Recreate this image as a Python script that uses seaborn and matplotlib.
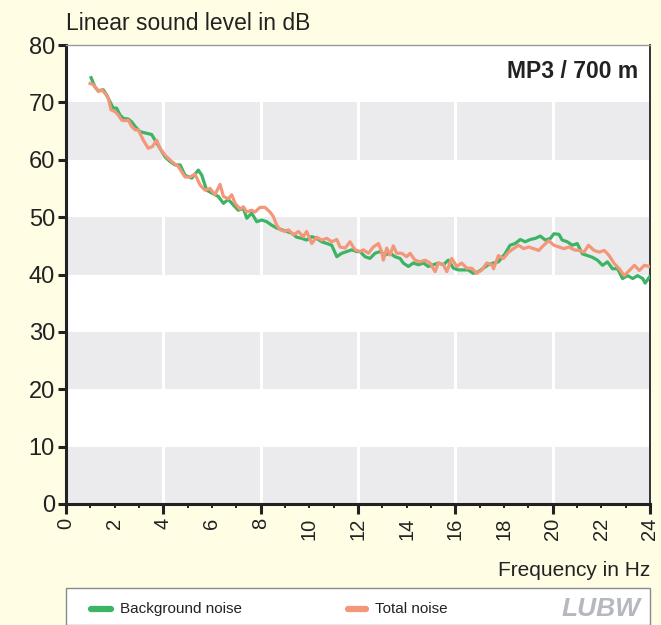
import matplotlib
matplotlib.use("Agg")
import matplotlib.pyplot as plt
from matplotlib import font_manager
from matplotlib.patches import Rectangle
from matplotlib.lines import Line2D
from matplotlib.ticker import FixedLocator, FuncFormatter
import numpy as np
import pandas as pd
import seaborn as sns

# ---------------- data ----------------
freq_bg = [1.03, 1.19, 1.33, 1.53, 1.67, 1.81, 1.94, 2.08, 2.22, 2.36, 2.56, 2.70, 2.84, 3.04,
           3.32, 3.52, 3.66, 3.86, 4.07, 4.27, 4.48, 4.69, 4.89, 5.17, 5.44, 5.58, 5.78, 5.99,
           6.26, 6.47, 6.67, 6.88, 7.08, 7.29, 7.43, 7.63, 7.84, 8.04, 8.25, 8.45, 8.66, 8.87,
           9.07, 9.28, 9.48, 9.69, 9.89, 10.10, 10.30, 10.51, 10.72, 10.92, 11.13, 11.33, 11.54,
           11.74, 11.95, 12.08, 12.29, 12.49, 12.70, 12.91, 13.11, 13.32, 13.52, 13.73, 13.86,
           14.07, 14.27, 14.48, 14.69, 14.89, 15.10, 15.30, 15.51, 15.71, 15.92, 16.12, 16.33,
           16.53, 16.74, 16.95, 17.15, 17.36, 17.56, 17.77, 18.04, 18.25, 18.46, 18.67, 18.87,
           19.08, 19.29, 19.49, 19.70, 19.91, 20.05, 20.26, 20.39, 20.60, 20.81, 21.01, 21.22,
           21.43, 21.63, 21.84, 22.05, 22.25, 22.46, 22.67, 22.87, 23.08, 23.29, 23.49, 23.70,
           23.80, 23.98]
level_bg = [74.3, 72.7, 72.0, 72.2, 71.3, 70.1, 69.0, 69.0, 67.8, 67.2, 67.1, 66.6, 65.8, 64.9,
            64.6, 64.4, 63.4, 62.0, 60.5, 59.7, 59.1, 59.1, 57.3, 56.8, 58.2, 57.3, 54.7, 54.2,
            53.6, 52.4, 53.1, 52.1, 51.2, 51.5, 49.8, 50.7, 49.2, 49.5, 49.2, 48.6, 48.1, 47.8,
            47.5, 47.2, 46.5, 46.3, 46.0, 46.6, 46.3, 45.7, 45.4, 45.1, 43.1, 43.7, 44.0,
            44.3, 44.0, 44.0, 43.1, 42.8, 43.7, 44.0, 43.4, 43.7, 43.1, 42.8, 42.0,
            41.4, 42.0, 41.7, 42.0, 41.4, 41.7, 42.0, 41.7, 42.5, 41.1, 40.8, 40.8,
            40.8, 40.2, 40.5, 41.1, 41.7, 42.0, 42.2, 43.6, 45.1, 45.4, 46.1, 45.7,
            46.1, 46.3, 46.7, 46.0, 46.3, 47.1, 47.0, 46.0, 45.7, 45.1, 45.4, 43.6,
            43.3, 43.0, 42.5, 41.6, 42.2, 41.0, 41.0, 39.3, 39.8, 39.3, 39.8, 39.3,
            38.5, 39.6]

freq_total = [0.99, 1.12, 1.33, 1.47, 1.60, 1.74, 1.85, 2.01, 2.15, 2.29, 2.42, 2.56, 2.70, 2.84,
              2.97, 3.18, 3.38, 3.55, 3.73, 3.86, 4.07, 4.34, 4.62, 4.89, 5.10, 5.30, 5.51, 5.71,
              5.92, 6.12, 6.33, 6.47, 6.67, 6.81, 6.95, 7.15, 7.29, 7.43, 7.63, 7.77, 7.97, 8.18,
              8.38, 8.52, 8.66, 8.80, 9.00, 9.14, 9.35, 9.55, 9.75, 9.89, 10.10, 10.30, 10.51,
              10.72, 10.92, 11.13, 11.26, 11.47, 11.67, 11.88, 12.08, 12.22, 12.43, 12.63, 12.84,
              12.97, 13.04, 13.18, 13.32, 13.45, 13.59, 13.80, 14.00, 14.14, 14.34, 14.55, 14.76,
              14.96, 15.17, 15.30, 15.51, 15.65, 15.85, 16.06, 16.26, 16.47, 16.67, 16.88, 17.09,
              17.29, 17.50, 17.57, 17.77, 17.98, 18.19, 18.39, 18.60, 18.81, 19.01, 19.22, 19.43,
              19.63, 19.84, 20.05, 20.26, 20.46, 20.67, 20.88, 21.08, 21.29, 21.47, 21.70, 21.91,
              22.12, 22.32, 22.53, 22.74, 22.94, 23.15, 23.36, 23.56, 23.77, 23.98]
level_total = [73.3, 73.1, 71.9, 72.2, 71.6, 70.7, 68.7, 68.4, 67.8, 66.9, 66.8, 66.9, 65.8, 65.2,
               65.2, 63.4, 62.0, 62.3, 63.4, 62.0, 60.8, 59.7, 58.8, 57.0, 57.0, 57.5, 55.6, 54.7,
               55.0, 53.9, 55.7, 53.6, 53.2, 53.9, 52.4, 51.4, 51.8, 50.9, 51.2, 50.9, 51.7, 51.7,
               50.9, 50.1, 48.6, 47.8, 47.5, 47.8, 46.9, 47.5, 46.6, 47.5, 45.4, 46.5, 46.0,
               46.3, 45.7, 46.1, 44.8, 44.6, 45.7, 44.3, 44.0, 44.3, 43.7, 44.8, 45.4,
               44.0, 42.5, 44.6, 43.4, 45.0, 43.7, 43.7, 43.1, 43.7, 42.5, 42.2, 42.5,
               42.0, 40.5, 42.0, 41.7, 40.5, 42.8, 41.4, 42.0, 41.1, 41.1, 40.2, 40.8,
               42.0, 41.7, 41.0, 43.3, 42.8, 43.9, 44.5, 45.1, 44.5, 44.8, 44.5, 44.2,
               45.1, 45.9, 45.1, 44.8, 44.5, 44.8, 44.3, 44.2, 43.9, 45.1, 44.2, 43.9,
               44.2, 43.3, 41.9, 41.0, 39.8, 40.7, 41.6, 40.7, 41.6, 41.4]

series_names = ["Background noise", "Total noise"]
series_colors = ["#3BB464", "#F4967A"]
y_ticks = [0, 10, 20, 30, 40, 50, 60, 70, 80]
x_ticks = list(range(0, 25, 2))
title_text = "Linear sound level in dB"
xlabel_text = "Frequency in Hz"
panel_text = "MP3 / 700 m"
logo_text = "LUBW"

# ---------------- fonts ----------------
avail = {f.name for f in font_manager.fontManager.ttflist}
base_font = "Liberation Sans Narrow" if "Liberation Sans Narrow" in avail else "Liberation Sans"
plt.rcParams["font.family"] = [base_font, "DejaVu Sans"]

df = pd.concat([
    pd.DataFrame({"freq": freq_bg, "level": level_bg, "series": series_names[0]}),
    pd.DataFrame({"freq": freq_total, "level": level_total, "series": series_names[1]}),
], ignore_index=True)

cream = "#FFFDE4"
fig = plt.figure(figsize=(6.61, 6.25), dpi=100, facecolor=cream)
W, H = 661, 625
ax = fig.add_axes([66 / W, 1 - 504 / H, (650 - 66) / W, (504 - 45) / H])
ax.set_facecolor("white")

# bands
for lo in range(0, 80, 20):
    ax.axhspan(lo, lo + 10, color="#EBEBEE", lw=0, zorder=0)
for v in range(4, 24, 4):
    ax.axvline(v, color="white", lw=2.2, zorder=1)

sns.lineplot(data=df, x="freq", y="level", hue="series", palette=series_colors,
             hue_order=series_names, linewidth=2.3, legend=False, ax=ax, zorder=3,
             estimator=None, sort=False)

ax.set_xlim(0, 24)
ax.set_ylim(0, 80)
ax.set_xlabel("")
ax.set_ylabel("")

# spines
for s in ["left", "bottom"]:
    ax.spines[s].set_color("#222222")
    ax.spines[s].set_linewidth(2.2)
ax.spines["right"].set_color("#333333")
ax.spines["right"].set_linewidth(1.4)
ax.spines["top"].set_color("#9A9A9A")
ax.spines["top"].set_linewidth(1.0)

# y ticks
ax.set_yticks(y_ticks)
ax.tick_params(axis="y", which="major", length=6, width=2.2, color="#222222",
               labelsize=17, pad=2, labelcolor="#222222")
# x ticks: long at multiples of 4, short elsewhere; labels every 2
ax.xaxis.set_major_locator(FixedLocator(list(range(0, 25, 4))))
ax.xaxis.set_minor_locator(FixedLocator([i for i in range(0, 25) if i % 4 != 0]))
ax.xaxis.set_major_formatter(FuncFormatter(lambda v, p: f"{int(v)}"))
ax.xaxis.set_minor_formatter(FuncFormatter(lambda v, p: f"{int(round(v))}" if int(round(v)) % 2 == 0 else ""))
ax.tick_params(axis="x", which="major", length=7, width=2.2, color="#222222",
               labelsize=14.5, pad=3, labelrotation=90, labelcolor="#222222")
ax.tick_params(axis="x", which="minor", length=3, width=1.4, color="#222222",
               labelsize=14.5, pad=7, labelrotation=90, labelcolor="#222222")
for lab in ax.get_xticklabels(which="both"):
    lab.set_va("top")

# texts
fig.text(66 / W, 1 - 24 / H, title_text, ha="left", va="center", fontsize=16.5, color="#222222")
ax.text((638 - 66) / 584, (504 - 72) / 459, panel_text, transform=ax.transAxes,
        ha="right", va="center", fontsize=16.5, fontweight="bold", color="#222222")
fig.text(650 / W, 1 - 570 / H, xlabel_text, ha="right", va="center", fontsize=15, color="#222222")

# legend box
fig.add_artist(Rectangle((66 / W, 0), (650 - 66) / W, 1 - 588 / H - 0.0,
                         transform=fig.transFigure, facecolor="white",
                         edgecolor="#8A8A8A", lw=1.0))
ly = 1 - 609 / H
fig.add_artist(Line2D([91 / W, 111 / W], [ly, ly], color=series_colors[0], lw=4.5,
                      solid_capstyle="round", transform=fig.transFigure))
fig.text(120 / W, ly, series_names[0], ha="left", va="center", fontsize=11, color="#222222")
fig.add_artist(Line2D([348 / W, 366 / W], [ly, ly], color=series_colors[1], lw=4.5,
                      solid_capstyle="round", transform=fig.transFigure))
fig.text(375 / W, ly, series_names[1], ha="left", va="center", fontsize=11, color="#222222")
fig.text(641 / W, ly, logo_text, ha="right", va="center", fontsize=19, fontweight="bold",
         fontstyle="italic", color="#B5B8BF")

fig.savefig("out.png", dpi=100, facecolor=cream)
